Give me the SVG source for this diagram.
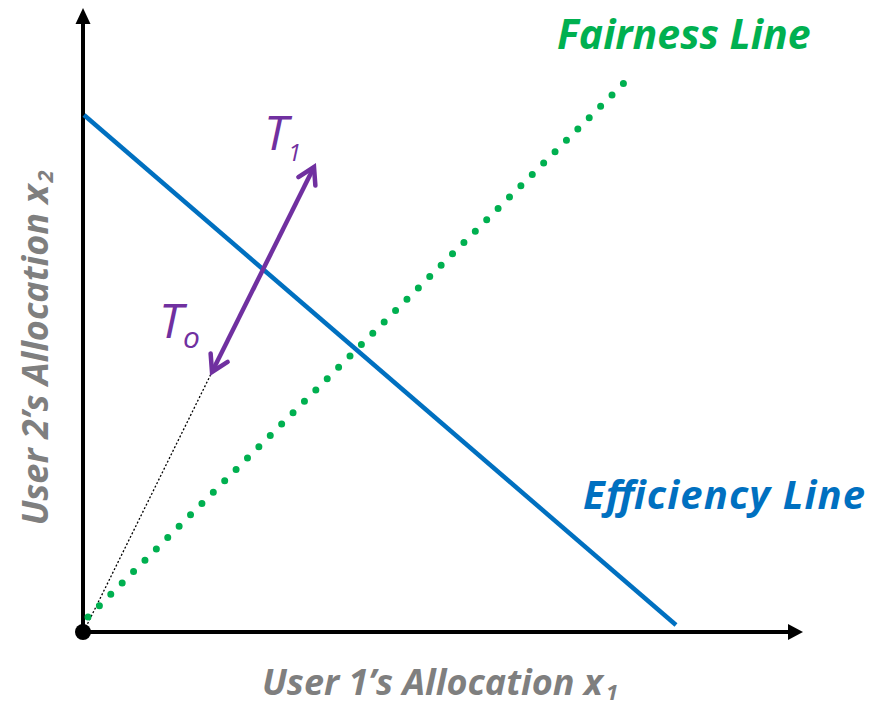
<svg xmlns="http://www.w3.org/2000/svg" width="871" height="706" viewBox="0 0 871 706">
  <style>
    .lbl { font-family: "Open Sans", "Liberation Sans", sans-serif; font-style: italic; font-weight: bold; }
    .axis-lbl { fill: #7F7F7F; font-size: 36px; }
    .tlbl { font-family: "Open Sans", "Liberation Sans", sans-serif; font-style: italic; fill: #7030A0; }
  </style>
  <defs>
    <marker id="chev" markerUnits="userSpaceOnUse" markerWidth="30" markerHeight="30" refX="0" refY="0" viewBox="-20 -15 30 30" orient="auto-start-reverse" overflow="visible">
      <path d="M -16 -9.5 L 0 0 L -16 9.5" fill="none" stroke="#7030A0" stroke-width="4.5" stroke-linecap="round" stroke-linejoin="miter"/>
    </marker>
  </defs>

  <rect width="871" height="706" fill="#FFFFFF"/>

  <!-- axes -->
  <g id="axes">
    <line x1="83" y1="632" x2="83" y2="22" stroke="#000" stroke-width="4"/>
    <polygon points="83,8 75.5,24 90.5,24" fill="#000"/>
    <line x1="83" y1="632" x2="790" y2="632" stroke="#000" stroke-width="4"/>
    <polygon points="803,632 788,624 788,640" fill="#000"/>
  </g>

  <g id="connectors">
    <!-- path from origin to T0 -->
    <line x1="84" y1="631" x2="211" y2="374" stroke="#000" stroke-width="1.3" stroke-dasharray="2 2"/>
    <!-- fairness line -->
    <line x1="88" y1="617" x2="625" y2="82" stroke="#00B050" stroke-width="7" stroke-linecap="round" stroke-dasharray="0 16.08"/>
    <!-- efficiency line -->
    <line x1="84" y1="115" x2="676" y2="625" stroke="#0070C0" stroke-width="4.5"/>
    <!-- T0 to T1 move -->
    <line x1="212" y1="372" x2="314" y2="167" stroke="#7030A0" stroke-width="4.5" marker-start="url(#chev)" marker-end="url(#chev)"/>
  </g>

  <!-- origin -->
  <g id="origin">
    <circle cx="83" cy="632" r="8" fill="#000"/>
  </g>

  <g id="fairness-label">
    <text class="lbl" x="557" y="49" font-size="41" fill="#00B050">Fairness Line</text>
  </g>

  <g id="efficiency-label">
    <text class="lbl" x="583" y="509" font-size="40" fill="#0070C0" textLength="282" lengthAdjust="spacing">Efficiency Line</text>
  </g>

  <g id="t1">
    <text class="tlbl" x="264" y="150" font-size="48">T<tspan font-size="24" dy="11">1</tspan></text>
  </g>

  <g id="t0">
    <text class="tlbl" x="159" y="338" font-size="48">T<tspan font-size="30" dy="10">o</tspan></text>
  </g>

  <g id="x-label">
    <text class="lbl axis-lbl" x="262" y="695">User 1’s Allocation x<tspan font-size="22" dx="3" dy="5">1</tspan></text>
  </g>

  <g id="y-label">
    <text class="lbl axis-lbl" transform="translate(48,348) rotate(-90)" text-anchor="middle">User 2’s Allocation x<tspan font-size="22" dx="2" dy="5">2</tspan></text>
  </g>
</svg>
